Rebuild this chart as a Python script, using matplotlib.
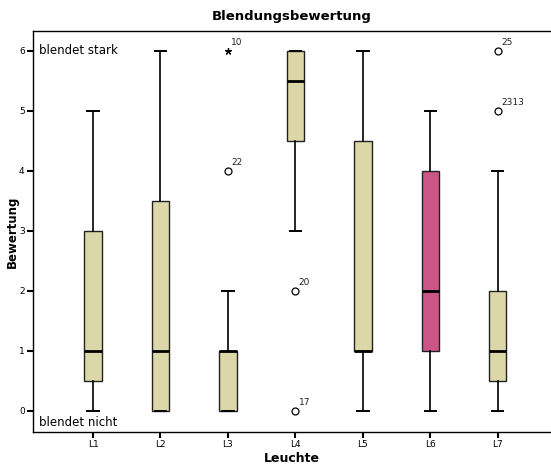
import matplotlib
matplotlib.use("Agg")
import matplotlib.pyplot as plt

leuchten = ["L1", "L2", "L3", "L4", "L5", "L6", "L7"]
q1 = [0.5, 0.0, 0.0, 4.5, 1.0, 1.0, 0.5]
median = [1.0, 1.0, 1.0, 5.5, 1.0, 2.0, 1.0]
q3 = [3.0, 3.5, 1.0, 6.0, 4.5, 4.0, 2.0]
whislo = [0.0, 0.0, 0.0, 3.0, 0.0, 0.0, 0.0]
whishi = [5.0, 6.0, 2.0, 6.0, 6.0, 5.0, 4.0]
# Ausreisser: (Leuchte-Index, Wert, Fallnummer, Marker)
ausreisser = [
    (2, 6.0, "10", "*"),
    (2, 4.0, "22", "o"),
    (3, 2.0, "20", "o"),
    (3, 0.0, "17", "o"),
    (6, 6.0, "25", "o"),
    (6, 5.0, "2313", "o"),
]
farben = ["#dbd7a8"] * 7
farben[5] = "#cc5588"

fig = plt.figure(figsize=(5.51, 4.66), dpi=100)
ax = fig.add_axes([33 / 551, 34 / 466, 1 - 33 / 551, 401 / 466])

stats = []
for i in range(len(leuchten)):
    stats.append(dict(med=median[i], q1=q1[i], q3=q3[i],
                      whislo=whislo[i], whishi=whishi[i], fliers=[]))

pos = list(range(1, len(leuchten) + 1))
bp = ax.bxp(stats, positions=pos, widths=0.26, patch_artist=True,
            showfliers=False,
            boxprops=dict(edgecolor="#222222", linewidth=1.0),
            medianprops=dict(color="black", linewidth=2.0),
            whiskerprops=dict(color="black", linewidth=1.2),
            capprops=dict(color="black", linewidth=1.4),
            capwidths=0.17)
for patch, f in zip(bp["boxes"], farben):
    patch.set_facecolor(f)

for i, wert, nr, m in ausreisser:
    if m == "*":
        ax.plot(pos[i], wert, marker=(5, 2, 0), color="black", ms=5, mew=0.9)
    else:
        ax.plot(pos[i], wert, marker="o", mfc="white", mec="black", ms=5, mew=0.9)
    ax.annotate(nr, (pos[i], wert), xytext=(2.5, 4.5), textcoords="offset points",
                fontsize=6.5, color="#222222")

ax.set_xlim(0.11, 7.79)
ax.set_ylim(-0.35, 6.33)
ax.set_xticks(pos)
ax.set_xticklabels(leuchten)
ax.set_yticks(range(0, 7))
ax.tick_params(axis="both", labelsize=6.5, length=4, width=1.5, direction="out", pad=2)
ax.spines["right"].set_visible(False)
for s in ["left", "bottom", "top"]:
    ax.spines[s].set_linewidth(1.0)

ax.text(0.2, 6.0, "blendet stark", fontsize=8.5, va="center", ha="left")
ax.text(0.2, -0.2, "blendet nicht", fontsize=8.5, va="center", ha="left")

ax.set_title("Blendungsbewertung", fontsize=9.5, fontweight="bold", pad=8)
ax.set_ylabel("Bewertung", fontsize=8.5, fontweight="bold")
ax.yaxis.set_label_coords(-14 / 518, 0.5)
ax.set_xlabel("Leuchte", fontsize=9, fontweight="bold", labelpad=2)

fig.savefig("out.png", dpi=100)
